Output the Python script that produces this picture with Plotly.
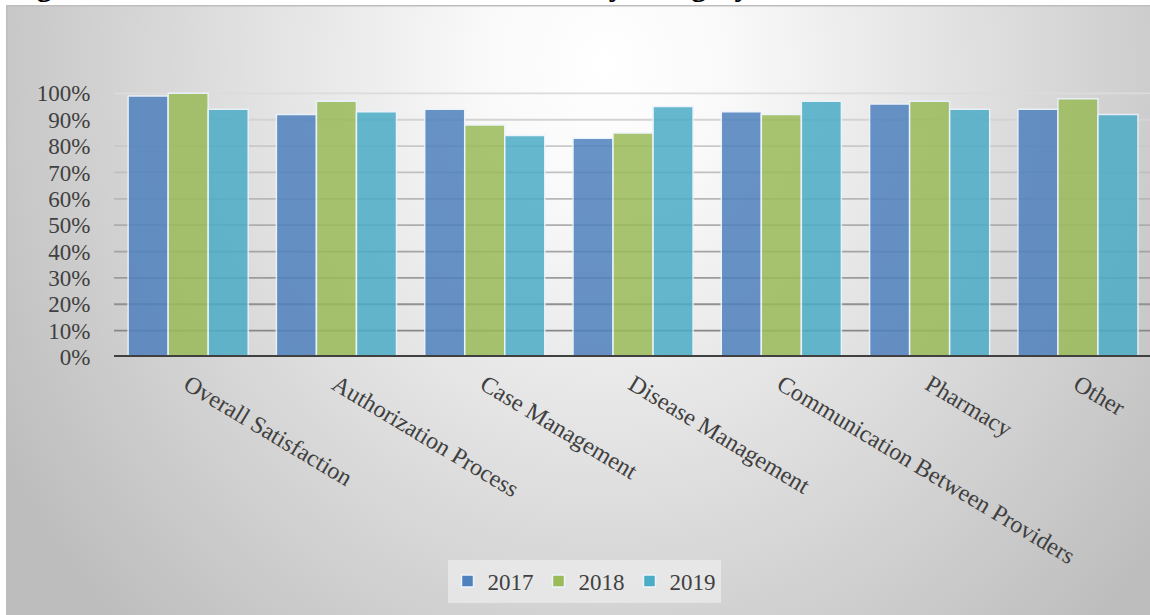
import base64
import plotly.graph_objects as go

# ---- data -------------------------------------------------------------
categories = [
    "Overall Satisfaction",
    "Authorization Process",
    "Case Management",
    "Disease Management",
    "Communication Between Providers",
    "Pharmacy",
    "Other",
]
years = ["2017", "2018", "2019"]
sat_2017 = [0.99, 0.92, 0.94, 0.83, 0.93, 0.96, 0.94]
sat_2018 = [1.00, 0.97, 0.88, 0.85, 0.92, 0.97, 0.98]
sat_2019 = [0.94, 0.93, 0.84, 0.95, 0.97, 0.94, 0.92]
y_tick_values = [0.0, 0.1, 0.2, 0.3, 0.4, 0.5, 0.6, 0.7, 0.8, 0.9, 1.0]
y_tick_labels = ["0%", "10%", "20%", "30%", "40%", "50%", "60%", "70%", "80%", "90%", "100%"]
title_text = "Figure 2: Overall Member Satisfaction Rates by Category"

# ---- geometry / style ---------------------------------------------------
W, H = 1150, 615
ML, MR, MT, MB = 114, 0, 67, 258
PW, PH = W - ML - MR, H - MT - MB
FONT = "Liberation Serif, Times New Roman, serif"
TEXT_COLOR = "#404040"
bar_colors = ["#4F81BD", "#9BBB59", "#4BACC6"]


def paper_x(px):
    return (px - ML) / PW


def paper_y(py):
    return (H - MB - py) / PH


# soft radial backdrop for the chart area
bg_svg = f"""<svg xmlns='http://www.w3.org/2000/svg' width='1144' height='610' viewBox='0 0 1144 610' preserveAspectRatio='none'>
<defs><radialGradient id='g' gradientUnits='userSpaceOnUse' cx='600' cy='60' r='700'
 gradientTransform='translate(600 60) scale(1 1.12) translate(-600 -60)'>
<stop offset='0' stop-color='#ffffff'/><stop offset='0.18' stop-color='#f9f9f9'/>
<stop offset='1' stop-color='#bdbdbd'/></radialGradient></defs>
<rect x='0' y='0' width='1144' height='610' fill='url(#g)'/>
<rect x='0.75' y='0.75' width='1150' height='612' fill='none' stroke='#bdbdbd' stroke-width='1.5'/>
</svg>"""
bg_uri = "data:image/svg+xml;base64," + base64.b64encode(bg_svg.encode()).decode()

fig = go.Figure()
for name, vals, col in zip(years, [sat_2017, sat_2018, sat_2019], bar_colors):
    fig.add_trace(
        go.Bar(
            name=name,
            x=categories,
            y=vals,
            marker=dict(color=col, opacity=0.85,
                        line=dict(color="rgba(235,243,252,1)", width=1.5)),
            hovertemplate="%{x}<br>" + name + ": %{y:.0%}<extra></extra>",
        )
    )

# horizontal gridlines, darkening toward the baseline
shapes = []
for v in y_tick_values[1:]:
    g = int(round(0x88 + (0xdc - 0x88) * (v - 0.1) / 0.9))
    shapes.append(dict(type="line", xref="paper", yref="y", x0=0, x1=1, y0=v, y1=v,
                       line=dict(color=f"rgb({g},{g},{g})", width=1.8), layer="below"))
shapes.append(dict(type="line", xref="paper", yref="y", x0=0, x1=1, y0=0, y1=0,
                   line=dict(color="#404040", width=4), layer="above"))

fig.update_layout(
    width=W,
    height=H,
    margin=dict(l=ML, r=MR, t=MT, b=MB, pad=0),
    paper_bgcolor="white",
    plot_bgcolor="rgba(0,0,0,0)",
    barmode="group",
    bargap=0.19,
    bargroupgap=0.0,
    font=dict(family=FONT, color=TEXT_COLOR, size=22),
    shapes=shapes,
    images=[dict(source=bg_uri, xref="paper", yref="paper",
                 x=paper_x(6), y=paper_y(5), sizex=(W - 6) / PW, sizey=(H - 5) / PH,
                 xanchor="left", yanchor="top", sizing="stretch", layer="below")],
    annotations=[dict(text=f"<b>{title_text}</b>", xref="paper", yref="paper",
                      x=paper_x(8), y=paper_y(4), xanchor="left", yanchor="bottom",
                      showarrow=False, font=dict(family=FONT, size=30, color="black"))],
    legend=dict(orientation="h", x=paper_x(584), y=paper_y(581),
                xanchor="center", yanchor="middle",
                bgcolor="rgba(242,242,242,0.6)",
                font=dict(family=FONT, size=23, color=TEXT_COLOR),
                itemwidth=30, traceorder="normal"),
    xaxis=dict(range=[-0.5, 6.486], tickangle=31, showgrid=False, showline=False,
               zeroline=False, ticks="", ticklabelstandoff=8,
               tickfont=dict(family=FONT, size=24, color=TEXT_COLOR)),
    yaxis=dict(range=[0, 1.1], tickvals=y_tick_values, ticktext=y_tick_labels,
               showgrid=False, zeroline=False, showline=False,
               ticks="outside", ticklen=18, tickcolor="rgba(0,0,0,0)",
               tickfont=dict(family=FONT, size=23, color=TEXT_COLOR)),
)

fig.write_html("out.html")
